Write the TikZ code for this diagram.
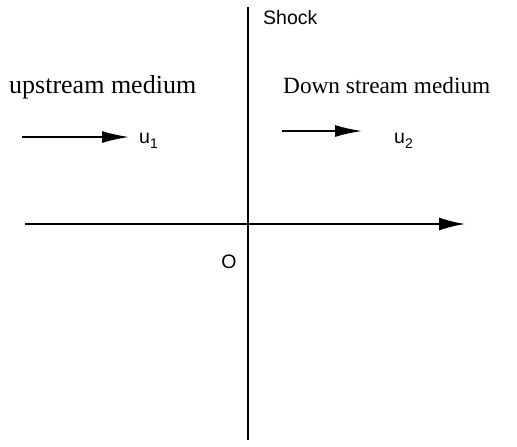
\documentclass[tikz,border=0pt]{standalone}
\usepackage{fontspec}
\setmainfont{Liberation Serif}
\newfontfamily\hel{Liberation Sans}
\usetikzlibrary{arrows.meta}
\newcommand\subsc[1]{\raisebox{-5pt}{\hel\fontsize{14}{14}\selectfont #1}}
\begin{document}
\begin{tikzpicture}[x=1pt,y=-1pt,
  axis/.style={line width=1.6pt,-{Latex[length=26pt,width=13pt]}},
  flow/.style={line width=1.6pt,-{Latex[length=27pt,width=12pt]}},
  serif/.style={anchor=base west,inner sep=0pt},
  sans/.style={font=\hel\fontsize{19.5}{22}\selectfont,inner sep=0pt}]
\useasboundingbox (0,0) rectangle (517,447);
% shock line
\coordinate (st) at (248,7);
\coordinate (sb) at (248,440);
\draw[line width=1.6pt] (st) -- (sb);
% horizontal axis
\coordinate (al) at (25,224);
\coordinate (ar) at (465,224);
\draw[axis] (al) -- (ar);
% labels
\node[sans,anchor=base west] (shock) at (263,24) {Shock};
\node[serif,font=\fontsize{26}{30}\selectfont] (up) at (9,93) {upstream medium};
\node[serif,font=\fontsize{23.3}{28}\selectfont] (down) at (283,93) {Down stream medium};
\node[sans,anchor=center] (o) at (229,262) {O};
% flow arrows
\coordinate (u1s) at (22,137);
\coordinate (u1e) at (129,137);
\draw[flow] (u1s) -- (u1e);
\node[sans,anchor=base west] (u1) at (139,143) {u\subsc{1}};
\coordinate (u2s) at (282,131);
\coordinate (u2e) at (362,131);
\draw[flow] (u2s) -- (u2e);
\node[sans,anchor=base west] (u2) at (394,143) {u\subsc{2}};
\end{tikzpicture}
\end{document}
